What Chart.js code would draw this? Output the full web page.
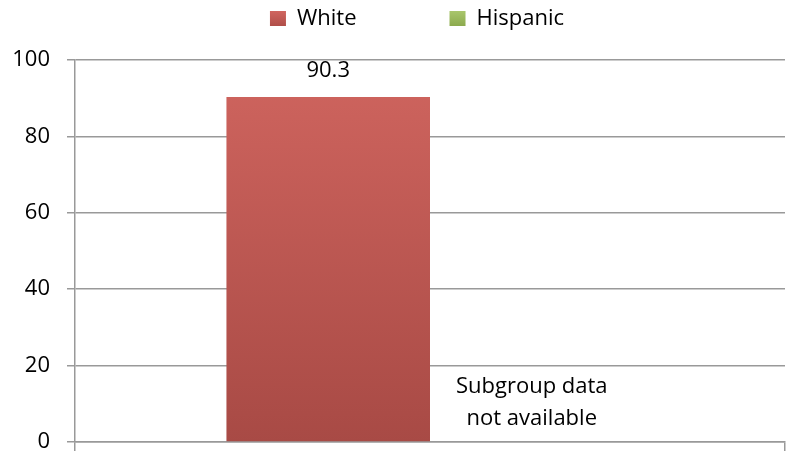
<!DOCTYPE html>
<html>
<head>
<meta charset="utf-8">
<style>
  html, body { margin: 0; padding: 0; background: #ffffff; }
  #wrap { width: 786px; height: 456px; }
</style>
<script src="https://cdn.jsdelivr.net/npm/chart.js@4.4.1/dist/chart.umd.min.js"></script>
</head>
<body>
<div id="wrap"><canvas id="c" width="786" height="456"></canvas></div>
<script>
const categories = [""];
const whiteValues = [90.3];
const hispanicValues = [null];
const yTicks = [0, 20, 40, 60, 80, 100];
const seriesLabels = ["White", "Hispanic"];
const missingNote = ["Subgroup data", "not available"];

const FONT = "'Open Sans', 'DejaVu Sans', sans-serif";
const LEG_PAD = 93;

function redGradient(ctx) {
  const chart = ctx.chart;
  const area = chart.chartArea;
  if (!area) return '#C0554F';
  const g = chart.ctx.createLinearGradient(0, area.top, 0, area.bottom);
  g.addColorStop(0, '#D0655F');
  g.addColorStop(1, '#A84A45');
  return g;
}
function greenLegendGradient(chart) {
  const g = chart.ctx.createLinearGradient(0, 11, 0, 26);
  g.addColorStop(0, '#A9C66C');
  g.addColorStop(1, '#8CAA4E');
  return g;
}
function redLegendGradient(chart) {
  const g = chart.ctx.createLinearGradient(0, 11, 0, 26);
  g.addColorStop(0, '#D0655F');
  g.addColorStop(1, '#B04E49');
  return g;
}

const legendTweak = {
  id: 'legendTweak',
  afterInit(chart) {
    const lg = chart.legend;
    if (!lg || lg._tweaked) return;
    lg._tweaked = true;
    const origFit = lg.fit.bind(lg);
    lg.fit = function () { origFit(); this.height = 60; };
    const origDraw = lg.draw.bind(lg);
    lg.draw = function () {
      const saved = { top: this.top, bottom: this.bottom, left: this.left, right: this.right };
      this.top = saved.top - 85.5;
      this.left = saved.left + 24.5;
      this.right = saved.right + 24.5;
      origDraw();
      Object.assign(this, saved);
    };
  }
};

const labelsPlugin = {
  id: 'labelsPlugin',
  afterDatasetsDraw(chart) {
    const c = chart.ctx;
    const y = chart.scales.y;
    c.save();
    c.fillStyle = '#000000';
    c.font = '22px ' + FONT;
    c.textAlign = 'center';
    c.textBaseline = 'alphabetic';
    const m0 = chart.getDatasetMeta(0);
    m0.data.forEach((bar, i) => {
      const v = whiteValues[i];
      if (v == null) return;
      c.fillText(v.toFixed(1), bar.x, bar.y - 20);
    });
    m0.data.forEach((bar, i) => {
      if (hispanicValues[i] != null) return;
      const cx = bar.x + bar.width;
      c.fillText(missingNote[0], cx, y.getPixelForValue(20) + 27);
      c.fillText(missingNote[1], cx, y.getPixelForValue(20) + 59);
    });
    c.restore();
  }
};

new Chart(document.getElementById('c'), {
  type: 'bar',
  data: {
    labels: categories,
    datasets: [
      { label: seriesLabels[0], data: whiteValues, backgroundColor: redGradient,
        borderWidth: 0, barPercentage: 1.0, categoryPercentage: 0.5734 },
      { label: seriesLabels[1], data: hispanicValues, backgroundColor: '#9BBB59',
        borderWidth: 0, barPercentage: 1.0, categoryPercentage: 0.5734 }
    ]
  },
  options: {
    responsive: false,
    animation: false,
    devicePixelRatio: 1,
    layout: { padding: { left: 0, right: 1, top: 0, bottom: 0 } },
    plugins: {
      legend: {
        position: 'top',
        align: 'center',
        labels: {
          boxWidth: 16,
          boxHeight: 15,
          padding: LEG_PAD,
          color: '#000000',
          font: { family: FONT, size: 22 },
          generateLabels(chart) {
            return chart.data.datasets.map((ds, i) => ({
              text: ds.label,
              fillStyle: i === 0 ? redLegendGradient(chart) : greenLegendGradient(chart),
              strokeStyle: 'rgba(0,0,0,0)',
              lineWidth: 0,
              hidden: false,
              datasetIndex: i
            }));
          }
        }
      },
      tooltip: { enabled: false }
    },
    scales: {
      x: {
        offset: true,
        grid: { display: true, drawOnChartArea: false, drawTicks: true, tickLength: 9,
                color: '#999999', lineWidth: 1.5, offset: true },
        border: { display: true, color: '#999999', width: 1.5 },
        ticks: { display: false },
        afterFit(scale) { scale.height = 14; scale.paddingLeft = 0; scale.paddingRight = 0; }
      },
      y: {
        min: 0,
        max: 100,
        afterBuildTicks(scale) { scale.ticks = yTicks.map(v => ({ value: v })); },
        grid: { color: '#999999', lineWidth: 1.5, tickLength: 8, drawTicks: true },
        border: { display: true, color: '#999999', width: 1.5 },
        ticks: { color: '#000000', padding: 17, font: { family: FONT, size: 22 } },
        afterFit(scale) { scale.width = 75; scale.paddingTop = 0; scale.paddingBottom = 0; }
      }
    }
  },
  plugins: [legendTweak, labelsPlugin]
});
</script>
</body>
</html>
